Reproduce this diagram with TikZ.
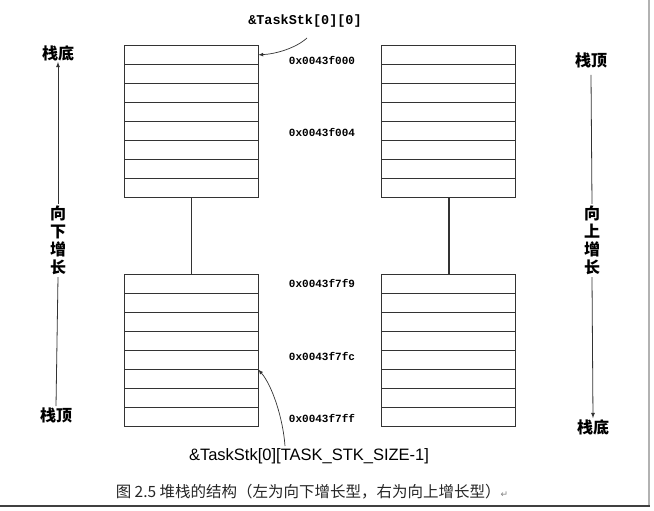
\documentclass[tikz,border=0pt]{standalone}
\usepackage{fontspec}
\usepackage{tikz}
\usepackage{xcolor}
\newfontfamily\cjk{Noto Sans CJK SC}
\newfontfamily\addrfont{Liberation Mono}
\newfontfamily\arialfont{Liberation Sans}
\newfontfamily\symfont{DejaVu Sans}
\definecolor{linegray}{gray}{.2}

\begin{document}
\begin{tikzpicture}[x=1pt,y=-1pt,
    cell/.style={draw=linegray,line width=0.9pt,inner sep=0pt,outer sep=0pt,
                 minimum width=134pt,minimum height=19.05pt},
    addr/.style={font=\addrfont\bfseries\fontsize{11}{11}\selectfont},
    stk/.style={font=\cjk\bfseries\fontsize{16}{16}\selectfont,inner sep=1pt},
    growtext/.style={font=\cjk\bfseries\fontsize{16}{18}\selectfont,align=center,inner sep=2pt}]
  \useasboundingbox (0,0) rectangle (654,511);
  % the four stacks
  \foreach \i in {1,...,8} {
    \node[cell] (lt\i) at (191.3,{45.3+19.05*(\i-0.5)}) {};
    \node[cell] (lb\i) at (191.3,{274.3+19.05*(\i-0.5)}) {};
    \node[cell] (rt\i) at (448.9,{45.3+19.05*(\i-0.5)}) {};
    \node[cell] (rb\i) at (448.9,{274.3+19.05*(\i-0.5)}) {};
  }
  \draw[linegray,line width=0.9pt] (lt8.south) -- (lb1.north);
  \draw[linegray,line width=1.3pt] (rt8.south) -- (rb1.north);

  \node[addr] (a0) at (322,60) {0x0043f000};
  \node[addr] (a4) at (322,132) {0x0043f004};
  \node[addr] (a9) at (322,283) {0x0043f7f9};
  \node[addr] (ac) at (322,356) {0x0043f7fc};
  \node[addr] (af) at (322,418) {0x0043f7ff};

  \node[font=\addrfont\bfseries\fontsize{13.5}{13.5}\selectfont] (first) at (305,21) {\&TaskStk[0][0]};
  \coordinate (firstp) at (307,38);
  \draw[-latex,linegray,line width=0.7pt] (firstp) .. controls (296,48) and (276,54) .. (lt1.east);

  \node[font=\arialfont\fontsize{16.5}{16.5}\selectfont] (last) at (309,456) {\&TaskStk[0][TASK\_STK\_SIZE-1]};
  \coordinate (lastp) at (285,446);
  \draw[-latex,linegray,line width=0.7pt] (lastp) .. controls (283,418) and (272,385) .. (lb5.south east);

  % left: grows downward
  \node[stk] (lbot) at (58,53) {栈底};
  \node[growtext] (lgrow) at (58,240.5) {向\\下\\增\\长};
  \node[stk] (ltop) at (56,415) {栈顶};
  \draw[-latex,linegray,line width=0.8pt] (lgrow.north) -- (lbot.south);
  \draw[linegray,line width=0.8pt] (ltop.north) -- (lgrow.south);

  % right: grows upward
  \node[stk] (rtop) at (591,60) {栈顶};
  \node[growtext] (rgrow) at (592,240.5) {向\\上\\增\\长};
  \node[stk] (rbot) at (593,427) {栈底};
  \draw[linegray,line width=0.8pt] ([yshift=-6pt]rtop.south) -- (rgrow.north);
  \draw[-latex,linegray,line width=0.8pt] (rgrow.south) -- (rbot.north);

  \node[font=\cjk\fontsize{15.5}{15.5}\selectfont,text=black!85] (cap) at (312,492)
    {图 2.5 堆栈的结构（左为向下增长型，右为向上增长型）{\symfont\fontsize{9}{9}\selectfont\color{gray}↵}};

  \draw[gray!60,line width=1.5pt] (649,0) -- (649,507);
  \draw[black!75,line width=2.5pt] (0,506) -- (650,506);
\end{tikzpicture}
\end{document}
